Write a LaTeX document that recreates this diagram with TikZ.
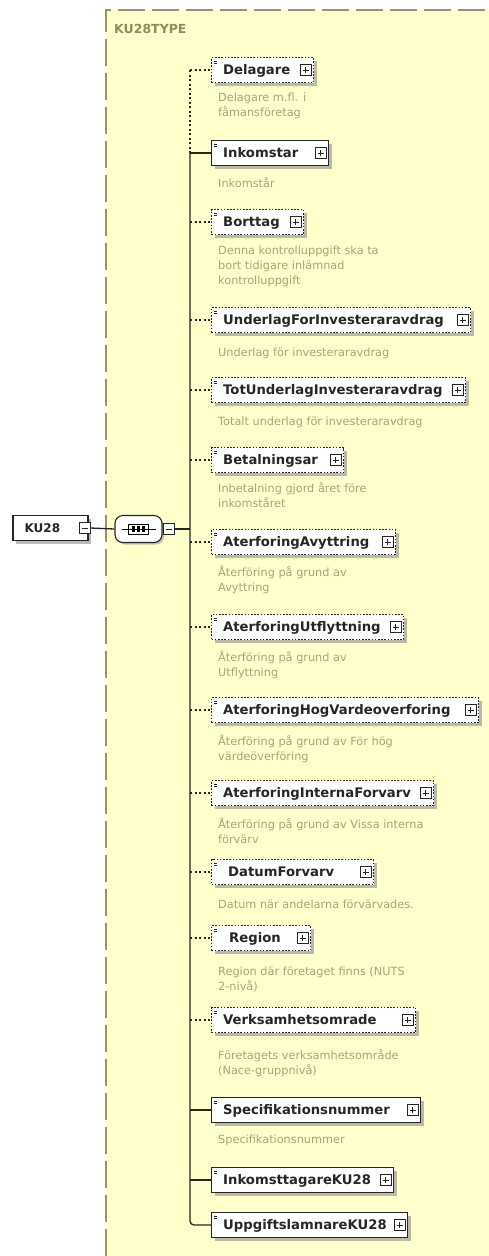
\documentclass[tikz,border=0pt]{standalone}
\usepackage{fontspec}
\setmainfont{DejaVu Sans}
\usetikzlibrary{positioning,calc,shadows}

\definecolor{typefill}{RGB}{255,255,204}
\definecolor{typeline}{RGB}{150,150,112}
\definecolor{typetitle}{RGB}{140,140,95}
\definecolor{desctext}{RGB}{168,166,112}

\tikzset{
  % element boxes
  elem/.style={draw=black!85, fill=white, line width=1.1pt, minimum height=25pt,
    inner sep=0pt, anchor=west,
    drop shadow={shadow xshift=3pt, shadow yshift=-3pt, fill=black!45, opacity=0.6},
    path picture={
      \draw[solid, line width=1pt, fill=white]
        ([shift={(-13.5pt,-5.5pt)}]path picture bounding box.east) rectangle
        ([shift={(-2.5pt,5.5pt)}]path picture bounding box.east);
      \draw[solid, line width=0.8pt]
        ([shift={(-11pt,0pt)}]path picture bounding box.east) --
        ([shift={(-5pt,0pt)}]path picture bounding box.east)
        ([shift={(-8pt,-3pt)}]path picture bounding box.east) --
        ([shift={(-8pt,3pt)}]path picture bounding box.east);
      \fill ([shift={(4pt,-8pt)}]path picture bounding box.west) circle (1.5pt);
      \draw[solid, line width=0.7pt]
        ([shift={(2pt,9pt)}]path picture bounding box.west) -- ++(3pt,0pt)
        ([shift={(2pt,7pt)}]path picture bounding box.west) -- ++(3pt,0pt);
    }},
  optelem/.style={elem, dash pattern=on 1.6pt off 1.6pt},
  elemname/.style={font=\fontsize{13.2}{15}\bfseries, text=black!85, inner sep=0pt,
    anchor=west, text height=9.6pt, text depth=0pt},
  desc/.style={font=\fontsize{11.3}{15}\selectfont, text=desctext, align=left,
    inner sep=0pt, anchor=north west, yshift=7.5pt, execute at begin node=\strut},
  minusbox/.style={draw=black!85, fill=white, line width=1pt, minimum size=11pt,
    inner sep=0pt,
    path picture={\draw[line width=0.8pt]
      ([xshift=2.5pt]path picture bounding box.west) --
      ([xshift=-2.5pt]path picture bounding box.east);}},
  reqconn/.style={draw=black!85, line width=1.3pt},
  optconn/.style={draw=black!85, line width=1.4pt, dash pattern=on 2pt off 2.5pt},
}

\begin{document}
\begin{tikzpicture}[x=1pt, y=-1pt]

    \useasboundingbox (0,0) rectangle (489,1256);
    \clip (0,0) rectangle (489,1256);

    % --- complex type KU28TYPE ---
    \fill[typefill] (106,10) rectangle (520,1290);
    \draw[typeline, line width=1.5pt, dash pattern=on 27pt off 7pt] (106,1290) -- (106,10) -- (520,10);
    \node[anchor=west, inner sep=0pt, font=\fontsize{12.5}{14}\bfseries, text=typetitle] (typename) at (114,29) {KU28TYPE};

    % --- root element and sequence ---
    \node[draw=black!85, fill=white, line width=1.1pt, minimum width=75pt, minimum height=25pt,
          drop shadow={shadow xshift=3pt, shadow yshift=-3pt, fill=black!45, opacity=0.6}] (ku28) at (50.5,528) {};
    \node[elemname, font=\fontsize{12}{14}\bfseries, right=12pt of ku28.west] (ku28-name) {KU28};
    \node[minusbox, left=-2pt of ku28.east] (ku28-minus) {};

    \node[draw=black!85, fill=white, line width=1.1pt, rounded corners=8pt,
          minimum width=47pt, minimum height=27pt, inner sep=0pt,
          drop shadow={shadow xshift=2pt, shadow yshift=-2pt, fill=black!40, opacity=0.6}] (seq) at (138.5,529) {};
    \draw[line width=0.9pt] ([xshift=-17pt]seq.center) -- ([xshift=17pt]seq.center);
    \draw[line width=0.9pt] ([shift={(-10pt,-5pt)}]seq.center) rectangle ([shift={(10pt,5pt)}]seq.center);
    \foreach \dx in {-5,0,5}
        \fill ([xshift=\dx pt]seq.center) ++(-1.5pt,-3pt) rectangle ++(3pt,6pt);
    \node[minusbox, right=0pt of seq.east] (seq-minus) {};

    \coordinate (trunk) at (190,529);

    % --- child elements ---
    \node[optelem, minimum width=102pt] (delagare) at (211,70) {};
    \node[elemname, right=12pt of delagare.west] (delagare-name) {Delagare};
    \node[desc] (delagare-desc) at (218,100) {Delagare m.fl. i\\fåmansföretag};

    \node[elem, minimum width=117pt] (inkomstar) at (211,153) {};
    \node[elemname, right=12pt of inkomstar.west] (inkomstar-name) {Inkomstar};
    \node[desc] (inkomstar-desc) at (218,184) {Inkomstår};

    \node[optelem, minimum width=92pt] (borttag) at (211,222) {};
    \node[elemname, right=12pt of borttag.west] (borttag-name) {Borttag};
    \node[desc] (borttag-desc) at (218,253) {Denna kontrolluppgift ska ta\\bort tidigare inlämnad\\kontrolluppgift};

    \node[optelem, minimum width=259pt] (underlag) at (211,320) {};
    \node[elemname, right=12pt of underlag.west] (underlag-name) {UnderlagForInvesteraravdrag};
    \node[desc] (underlag-desc) at (218,353) {Underlag för investeraravdrag};

    \node[optelem, minimum width=254pt] (totunderlag) at (211,390) {};
    \node[elemname, right=12pt of totunderlag.west] (totunderlag-name) {TotUnderlagInvesteraravdrag};
    \node[desc] (totunderlag-desc) at (218,422) {Totalt underlag för investeraravdrag};

    \node[optelem, minimum width=132pt] (betal) at (211,460) {};
    \node[elemname, right=12pt of betal.west] (betal-name) {Betalningsar};
    \node[desc] (betal-desc) at (218,490) {Inbetalning gjord året före\\inkomståret};

    \node[optelem, minimum width=184pt] (avyttring) at (211,542) {};
    \node[elemname, right=12pt of avyttring.west] (avyttring-name) {AterforingAvyttring};
    \node[desc] (avyttring-desc) at (218,573) {Återföring på grund av\\Avyttring};

    \node[optelem, minimum width=192pt] (utflyttning) at (211,627) {};
    \node[elemname, right=12pt of utflyttning.west] (utflyttning-name) {AterforingUtflyttning};
    \node[desc] (utflyttning-desc) at (218,658) {Återföring på grund av\\Utflyttning};

    \node[optelem, minimum width=267pt] (hogvarde) at (211,710) {};
    \node[elemname, right=12pt of hogvarde.west] (hogvarde-name) {AterforingHogVardeoverforing};
    \node[desc] (hogvarde-desc) at (218,742) {Återföring på grund av För hög\\värdeöverföring};

    \node[optelem, minimum width=222pt] (interna) at (211,793) {};
    \node[elemname, right=12pt of interna.west] (interna-name) {AterforingInternaForvarv};
    \node[desc] (interna-desc) at (218,825) {Återföring på grund av Vissa interna\\förvärv};

    \node[optelem, minimum width=162pt] (datum) at (211,872) {};
    \node[elemname, right=17pt of datum.west] (datum-name) {DatumForvarv};
    \node[desc] (datum-desc) at (218,905) {Datum när andelarna förvärvades.};

    \node[optelem, minimum width=99pt] (region) at (211,938) {};
    \node[elemname, right=18pt of region.west] (region-name) {Region};
    \node[desc] (region-desc) at (218,974) {Region där företaget finns (NUTS\\2-nivå)};

    \node[optelem, minimum width=204pt] (verksamhet) at (211,1020) {};
    \node[elemname, right=12pt of verksamhet.west] (verksamhet-name) {Verksamhetsomrade};
    \node[desc] (verksamhet-desc) at (218,1057) {Företagets verksamhetsområde\\(Nace-gruppnivå)};

    \node[elem, minimum width=209pt] (spec) at (211,1110) {};
    \node[elemname, right=12pt of spec.west] (spec-name) {Specifikationsnummer};
    \node[desc] (spec-desc) at (218,1140) {Specifikationsnummer};

    \node[elem, minimum width=182pt] (inkomsttagare) at (211,1180) {};
    \node[elemname, right=12pt of inkomsttagare.west] (inkomsttagare-name) {InkomsttagareKU28};

    \node[elem, minimum width=196pt] (uppgift) at (211,1225) {};
    \node[elemname, right=12pt of uppgift.west] (uppgift-name) {UppgiftslamnareKU28};

    % --- connectors ---
    \draw[reqconn] (ku28-minus.east) -- (seq.west);
    \draw[reqconn] (seq-minus.east) -- (trunk);
    \draw[optconn] (trunk |- delagare.west) -- (trunk |- inkomstar.west);
    \draw[reqconn, rounded corners=4pt] (trunk |- inkomstar.west) -- (trunk |- uppgift.west) -- (uppgift.west);

    \draw[optconn] (trunk |- delagare.west) -- (delagare.west);
    \draw[reqconn] (trunk |- inkomstar.west) -- (inkomstar.west);
    \draw[optconn] (trunk |- borttag.west) -- (borttag.west);
    \draw[optconn] (trunk |- underlag.west) -- (underlag.west);
    \draw[optconn] (trunk |- totunderlag.west) -- (totunderlag.west);
    \draw[optconn] (trunk |- betal.west) -- (betal.west);
    \draw[optconn] (trunk |- avyttring.west) -- (avyttring.west);
    \draw[optconn] (trunk |- utflyttning.west) -- (utflyttning.west);
    \draw[optconn] (trunk |- hogvarde.west) -- (hogvarde.west);
    \draw[optconn] (trunk |- interna.west) -- (interna.west);
    \draw[optconn] (trunk |- datum.west) -- (datum.west);
    \draw[optconn] (trunk |- region.west) -- (region.west);
    \draw[optconn] (trunk |- verksamhet.west) -- (verksamhet.west);
    \draw[reqconn] (trunk |- spec.west) -- (spec.west);
    \draw[reqconn] (trunk |- inkomsttagare.west) -- (inkomsttagare.west);

\end{tikzpicture}
\end{document}
